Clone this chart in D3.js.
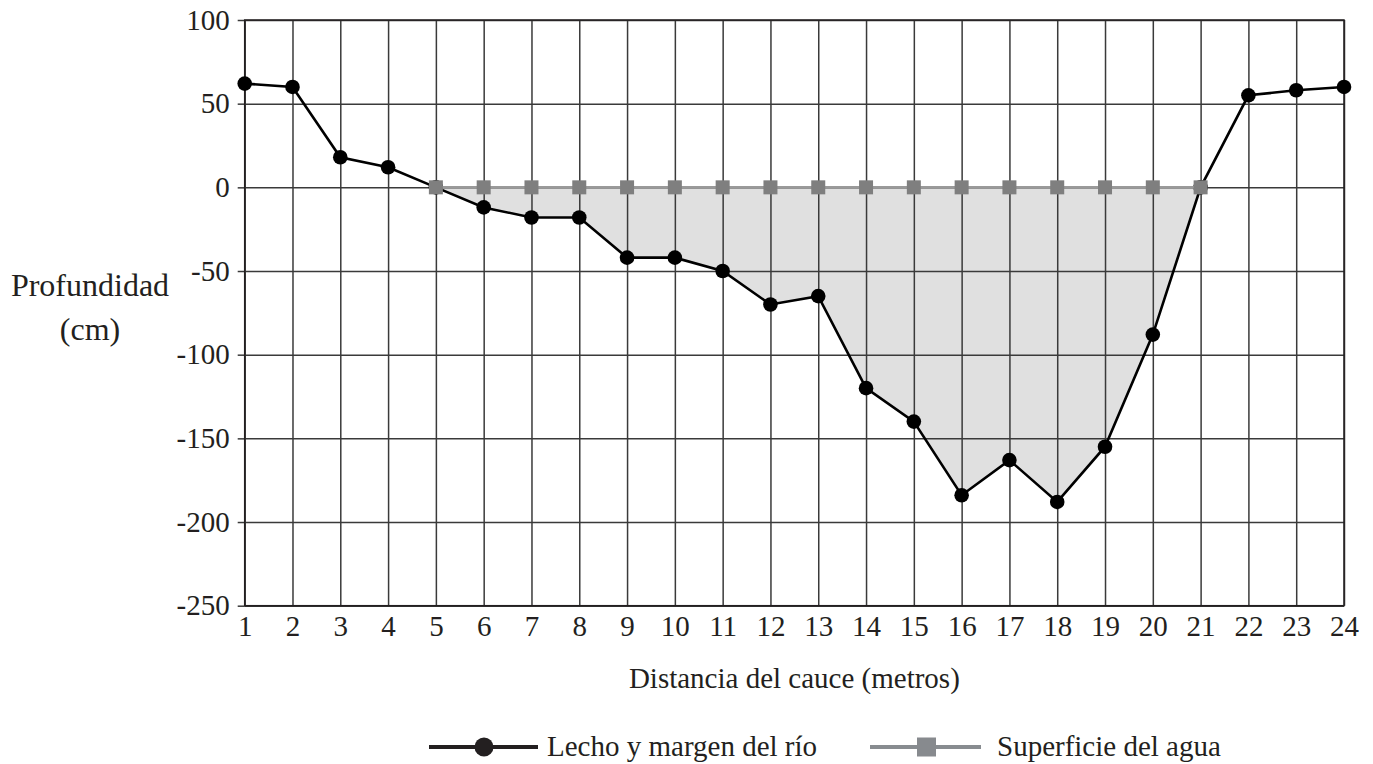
<!DOCTYPE html>
<html>
<head>
<meta charset="utf-8">
<script src="https://cdn.jsdelivr.net/npm/d3@7"></script>
<style>
  body { margin: 0; background: #fff; }
  svg text { font-family: "Liberation Serif", "Times New Roman", serif; fill: #231f20; }
</style>
</head>
<body>
<svg id="chart" width="1373" height="764"></svg>
<script>
// distance along the channel (m)
var distancias = [1, 2, 3, 4, 5, 6, 7, 8, 9, 10, 11, 12, 13, 14, 15, 16, 17, 18, 19, 20, 21, 22, 23, 24];
// river bed & bank depth (cm)
var lecho = [62, 60, 18, 12, 0, -12, -18, -18, -42, -42, -50, -70, -65, -120, -140, -184, -163, -188, -155, -88, 0, 55, 58, 60];
// water surface, only where there is water
var aguaDist = [5, 6, 7, 8, 9, 10, 11, 12, 13, 14, 15, 16, 17, 18, 19, 20, 21];
var agua = [0, 0, 0, 0, 0, 0, 0, 0, 0, 0, 0, 0, 0, 0, 0, 0, 0];
var yTicks = [100, 50, 0, -50, -100, -150, -200, -250];

var margin = {left: 244.7, top: 20, right: 29, bottom: 158.3};
var svg = d3.select('#chart');
var W = +svg.attr('width'), H = +svg.attr('height');
var w = W - margin.left - margin.right, h = H - margin.top - margin.bottom;
var g = svg.append('g').attr('transform', 'translate(' + margin.left + ',' + margin.top + ')');

var x = d3.scaleLinear().domain([1, 24]).range([0, w]);
var y = d3.scaleLinear().domain([-250, 100]).range([h, 0]);

var bed = distancias.map(function(d, i) { return {d: d, v: lecho[i]}; });
var water = aguaDist.map(function(d, i) { return {d: d, v: agua[i]}; });

// shaded water body between the surface and the bed
var bedUnderWater = bed.filter(function(p) { return p.d >= aguaDist[0] && p.d <= aguaDist[aguaDist.length - 1]; });
g.append('path')
    .datum(bedUnderWater)
    .attr('fill', '#e0e0e0')
    .attr('d', d3.area()
        .x(function(p) { return x(p.d); })
        .y0(function(p) { return y(agua[aguaDist.indexOf(p.d)]); })
        .y1(function(p) { return y(p.v); }));

// grid
g.append('g')
    .attr('class', 'grid')
    .call(d3.axisLeft(y).tickValues(yTicks).tickSize(-w).tickFormat(''))
    .call(function(s) { s.select('.domain').remove(); });
g.append('g')
    .attr('class', 'grid')
    .attr('transform', 'translate(0,' + h + ')')
    .call(d3.axisBottom(x).tickValues(distancias).tickSize(-h).tickFormat(''))
    .call(function(s) { s.select('.domain').remove(); });
g.selectAll('.grid line').attr('stroke', '#3a3a3a').attr('stroke-width', 1.5);

// y axis with small outward ticks, plain hyphen for negatives
var yAxis = g.append('g').call(d3.axisLeft(y).tickValues(yTicks).tickSize(7).tickPadding(8)
    .tickFormat(function(v) { return String(v); }));
yAxis.select('.domain').remove();
yAxis.selectAll('line').attr('stroke', '#3a3a3a').attr('stroke-width', 1.5);
yAxis.selectAll('text').attr('font-size', 29).style('font-family', '"Liberation Serif", serif').attr('fill', '#231f20');

var xAxis = g.append('g').attr('transform', 'translate(0,' + h + ')')
    .call(d3.axisBottom(x).tickValues(distancias).tickSize(0).tickPadding(10));
xAxis.select('.domain').remove();
xAxis.selectAll('text').attr('font-size', 29).style('font-family', '"Liberation Serif", serif').attr('fill', '#231f20');

// frame
g.append('rect').attr('width', w).attr('height', h)
    .attr('fill', 'none').attr('stroke', '#231f20').attr('stroke-width', 1.5);

// bed line
var line = d3.line().x(function(p) { return x(p.d); }).y(function(p) { return y(p.v); });
g.append('path').datum(bed)
    .attr('fill', 'none').attr('stroke', '#000').attr('stroke-width', 2.6).attr('d', line);
g.selectAll('.dot').data(bed).enter().append('circle')
    .attr('class', 'dot')
    .attr('cx', function(p) { return x(p.d); })
    .attr('cy', function(p) { return y(p.v); })
    .attr('r', 7.3).attr('fill', '#000');

// water surface
g.append('path').datum(water)
    .attr('fill', 'none').attr('stroke', '#9a9a9a').attr('stroke-width', 2.6).attr('d', line);
g.selectAll('.sq').data(water).enter().append('rect')
    .attr('class', 'sq')
    .attr('x', function(p) { return x(p.d) - 7; })
    .attr('y', function(p) { return y(p.v) - 7; })
    .attr('width', 14).attr('height', 14).attr('fill', '#7f7f7f');

// axis titles
svg.append('text').attr('x', 90).attr('y', 296).attr('text-anchor', 'middle')
    .attr('font-size', 32).text('Profundidad');
svg.append('text').attr('x', 90).attr('y', 340).attr('text-anchor', 'middle')
    .attr('font-size', 32).text('(cm)');
svg.append('text').attr('x', margin.left + w / 2).attr('y', 688).attr('text-anchor', 'middle')
    .attr('font-size', 29).text('Distancia del cauce (metros)');

// legend
var leg = svg.append('g');
leg.append('line').attr('x1', 429).attr('x2', 538).attr('y1', 747).attr('y2', 747)
    .attr('stroke', '#231f20').attr('stroke-width', 4);
leg.append('circle').attr('cx', 484).attr('cy', 747).attr('r', 9.5).attr('fill', '#231f20');
leg.append('text').attr('x', 547).attr('y', 756).attr('font-size', 29).text('Lecho y margen del río');
leg.append('line').attr('x1', 870).attr('x2', 981).attr('y1', 747).attr('y2', 747)
    .attr('stroke', '#888c90').attr('stroke-width', 4);
leg.append('rect').attr('x', 917).attr('y', 737.5).attr('width', 19).attr('height', 19).attr('fill', '#878a8e');
leg.append('text').attr('x', 997).attr('y', 756).attr('font-size', 29).text('Superficie del agua');
</script>
</body>
</html>
